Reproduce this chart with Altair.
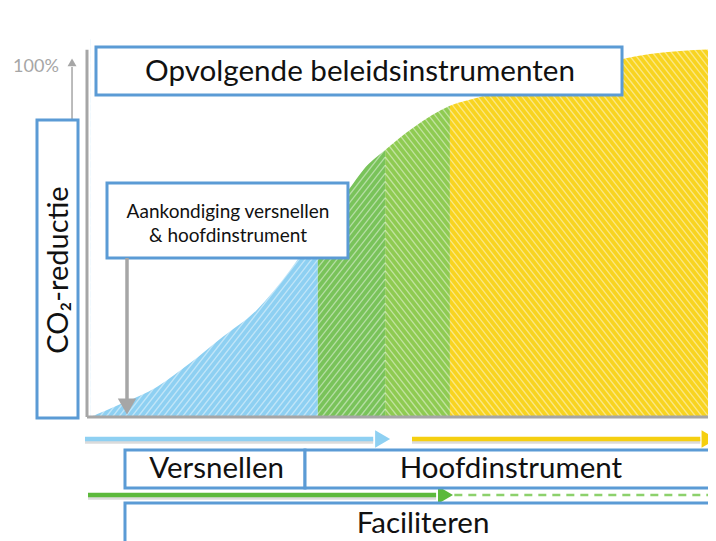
import altair as alt
import pandas as pd
import numpy as np

# ---------------- data ----------------
# time (0 = start of the axis, 100 = right edge) and CO2 reduction (%)
curve_t = [0.5, 5.7, 11.1, 16.4, 21.6, 27.0, 32.3, 36.7, 41.8, 43.9, 47.4,
           51.8, 57.7, 62.5, 68.8, 75.2, 81.6, 85.1, 89.5, 94.3, 100.0]
curve_r = [0.0, 4.0, 8.6, 15.4, 22.9, 30.6, 42.0, 53.4, 65.4, 70.6, 76.3,
           82.6, 88.9, 91.4, 95.1, 98.3, 100.9, 102.3, 103.7, 104.6, 105.1]

phase_names = ["versnellen", "overgang 1", "overgang 2", "hoofdinstrument"]
phase_start = [0.5, 36.7, 47.4, 57.7]
phase_end = [36.7, 47.4, 57.7, 100.0]
phase_colors = ["#8ed0f2", "#79c35a", "#8fcb52", "#f8d420"]
phase_hatch = ["/", "/", "\\", "\\"]

title_text = "Opvolgende beleidsinstrumenten"
ylabel_text = "CO\u2082-reductie"
note_lines = ["Aankondiging versnellen", "& hoofdinstrument"]
band_labels = ["Versnellen", "Hoofdinstrument", "Faciliteren"]
top_tick = "100%"

# ---------------- layout ----------------
W, H = 700, 533
X0, X1 = -12.56, 98.73
Y0, Y1 = -35.43, 116.86
xs = alt.Scale(domain=[X0, X1], nice=False, zero=False)
ys = alt.Scale(domain=[Y0, Y1], nice=False, zero=False)
kx = W / (X1 - X0)
ky = H / (Y1 - Y0)
TOP = 108.0  # height of the coloured columns (just above the curve)

BLUE_BOX = "#5b9bd5"
GREY = "#a6a6a6"


def X(f, **kw):
    return alt.X(f, type="quantitative", scale=xs, axis=None, **kw)


def Y(f, **kw):
    return alt.Y(f, type="quantitative", scale=ys, axis=None, **kw)


# coloured phase columns
cols_df = pd.DataFrame({"phase": phase_names, "t": phase_start, "t2": phase_end,
                        "r": [0.0] * 4, "r2": [TOP] * 4})
columns = alt.Chart(cols_df).mark_rect().encode(
    x=X("t"), x2="t2:Q", y=Y("r"), y2="r2:Q",
    color=alt.Color("phase:N", scale=alt.Scale(domain=phase_names, range=phase_colors), legend=None),
)

# hatch lines (white, diagonal), clipped to each phase column
ang = np.deg2rad(52)
s = np.tan(ang)
spacing = 5.0 / np.sin(ang)
Htop = TOP * ky
hrows = []
for a, b, d in zip(phase_start, phase_end, phase_hatch):
    xa, xb = a * kx, b * kx
    cs = np.arange(np.floor((xa - Htop / s - 20) / spacing), np.ceil((xb + Htop / s + 20) / spacing)) * spacing
    for c in cs:
        if d == "/":
            lo, hi = max(xa, c), min(xb, c + Htop / s)
            if lo < hi:
                hrows.append({"t": lo / kx, "r": (lo - c) * s / ky, "t2": hi / kx, "r2": (hi - c) * s / ky})
        else:
            lo, hi = max(xa, c - Htop / s), min(xb, c)
            if lo < hi:
                hrows.append({"t": lo / kx, "r": (c - lo) * s / ky, "t2": hi / kx, "r2": (c - hi) * s / ky})
hatch_df = pd.DataFrame(hrows)
hatch = alt.Chart(hatch_df).mark_rule(color="white", strokeWidth=1.3, opacity=0.45).encode(
    x=X("t"), y=Y("r"), x2="t2:Q", y2="r2:Q"
)

# white mask above the S-curve (gives the curve its smooth outline)
curve_df = pd.DataFrame({"t": curve_t, "r": curve_r})
mask = alt.Chart(curve_df).mark_area(interpolate="monotone", color="white", opacity=1).encode(
    x=X("t"), y=Y("r"), y2=alt.Y2(datum=TOP + 2)
)

# axes
axes_df = pd.DataFrame({"t": [0.0, 0.0], "r": [0.0, 0.0], "t2": [0.0, 100.0], "r2": [104.9, 0.0]})
axes = alt.Chart(axes_df).mark_rule(color=GREY, strokeWidth=3).encode(
    x=X("t"), y=Y("r"), x2="t2:Q", y2="r2:Q"
)

# small "100%" arrow
up_line = alt.Chart(pd.DataFrame({"t": [-2.38], "r": [84.9], "r2": [100.0]})).mark_rule(
    color=GREY, strokeWidth=1.5).encode(x=X("t"), y=Y("r"), y2="r2:Q")
up_head = alt.Chart(pd.DataFrame({"t": [-2.38], "r": [101.3]})).mark_point(
    shape="triangle-up", filled=True, size=80, color=GREY, opacity=1
).encode(x=X("t"), y=Y("r"))

# boxes
boxes_df = pd.DataFrame({
    "t": [1.43, -7.95, 3.18, 6.04, 34.66, 6.04],
    "t2": [85.06, -1.43, 41.49, 34.66, 101.5, 101.5],
    "r": [105.7, 84.86, 66.86, -9.43, -9.43, -24.57],
    "r2": [92.0, -0.29, 45.43, -20.29, -20.29, -40.0],
})
boxes = alt.Chart(boxes_df).mark_rect(fill="white", stroke=BLUE_BOX, strokeWidth=3).encode(
    x=X("t"), x2="t2:Q", y=Y("r"), y2="r2:Q"
)

# announcement arrow (down to the axis)
down_line = alt.Chart(pd.DataFrame({"t": [6.36], "r": [45.43], "r2": [5.0]})).mark_rule(
    color=GREY, strokeWidth=3.5).encode(x=X("t"), y=Y("r"), y2="r2:Q")
down_head = alt.Chart(pd.DataFrame({"t": [6.36], "r": [3.0]})).mark_point(
    shape="triangle-down", filled=True, size=340, color=GREY, opacity=1
).encode(x=X("t"), y=Y("r"))

# texts
texts_df = pd.DataFrame({
    "label": [title_text, ylabel_text, note_lines[0], note_lines[1],
              band_labels[0], band_labels[1], band_labels[2], top_tick],
    "t": [43.4, -4.45, 22.42, 22.42, 20.6, 67.4, 53.42, -8.11],
    "r": [98.6, 42.0, 58.6, 51.7, -14.86, -14.86, -30.57, 100.0],
    "size": [29.6, 29, 19, 19, 29.5, 29.5, 29.5, 18],
    "angle": [0, 270, 0, 0, 0, 0, 0, 0],
    "color": ["#111111"] * 7 + ["#a6a6a6"],
})
texts = alt.Chart(texts_df).mark_text(font="Lato", align="center", baseline="middle").encode(
    x=X("t"), y=Y("r"), text="label:N",
    size=alt.Size("size:Q", scale=None),
    angle=alt.Angle("angle:Q", scale=None),
    color=alt.Color("color:N", scale=None),
)

# phase arrows below the axis
arr_df = pd.DataFrame({
    "t": [-0.32, 51.67, 0.16],
    "t2": [45.5, 97.5, 55.5],
    "r": [-6.29, -6.29, -22.29],
    "col": ["#8ed0f2", "#f5cf10", "#5cb93c"],
})
arr_shadow = alt.Chart(arr_df).transform_calculate(rs="datum.r - 0.7").mark_rule(
    strokeWidth=4.5, color="#999999", opacity=0.35).encode(x=X("t"), x2="t2:Q", y=Y("rs:Q"))
arr_lines = alt.Chart(arr_df).mark_rule(strokeWidth=4.5).encode(
    x=X("t"), x2="t2:Q", y=Y("r"), color=alt.Color("col:N", scale=None))
heads_df = pd.DataFrame({"t": [47.0, 98.9, 57.0], "r": [-6.29, -6.29, -22.29],
                         "col": ["#8ed0f2", "#f5cf10", "#5cb93c"]})
arr_heads = alt.Chart(heads_df).mark_point(shape="triangle-right", filled=True, size=300, opacity=1).encode(
    x=X("t"), y=Y("r"), color=alt.Color("col:N", scale=None))
dash = alt.Chart(pd.DataFrame({"t": [58.4], "t2": [100.0], "r": [-22.29]})).mark_rule(
    strokeWidth=2.5, color="#8dd16c", strokeDash=[8, 6]).encode(x=X("t"), x2="t2:Q", y=Y("r"))

chart = alt.layer(
    columns, hatch, mask, axes, up_line, up_head, arr_shadow, arr_lines, arr_heads, dash,
    boxes, down_line, down_head, texts
).properties(width=W, height=H, padding=0, autosize="none").configure_view(stroke=None)

chart.save("out.html", embed_options={"renderer": "svg", "actions": False})
